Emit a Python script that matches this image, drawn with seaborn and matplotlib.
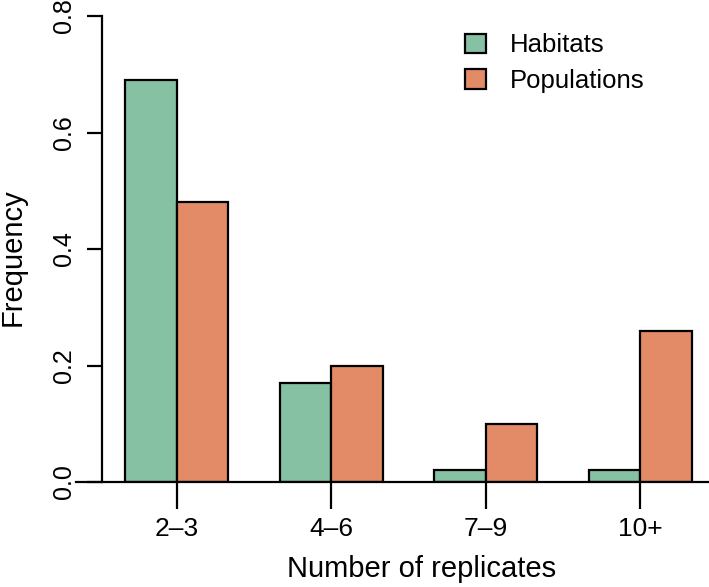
import matplotlib
matplotlib.use("Agg")
import matplotlib.pyplot as plt
import seaborn as sns
import pandas as pd
from matplotlib.patches import Patch

categories = ["2\u20133", "4\u20136", "7\u20139", "10+"]
habitats = [0.69, 0.17, 0.02, 0.02]
populations = [0.48, 0.20, 0.10, 0.26]
series_names = ["Habitats", "Populations"]
yticks = [0.0, 0.2, 0.4, 0.6, 0.8]

green = "#86C1A4"
orange = "#E38B66"

df = pd.DataFrame({
    "cat": categories * 2,
    "group": [series_names[0]] * 4 + [series_names[1]] * 4,
    "value": habitats + populations,
})

sns.set_theme(style="white")
plt.rcParams["font.family"] = ["Liberation Sans", "DejaVu Sans"]
plt.rcParams["text.color"] = "black"
plt.rcParams["axes.labelcolor"] = "black"
plt.rcParams["xtick.color"] = "black"
plt.rcParams["ytick.color"] = "black"

W, H = 709, 587
fig = plt.figure(figsize=(W / 100, H / 100), dpi=100)
ax = fig.add_axes([76 / W, (H - 482) / H, (708 - 76) / W, (482 - 16) / H])

sns.barplot(data=df, x="cat", y="value", hue="group", order=categories,
            hue_order=series_names, palette=[green, orange], width=2 / 3,
            saturation=1, edgecolor="black", linewidth=1.6, ax=ax, legend=False)

ax.set_xlim(-0.652, 3.439)
ax.set_ylim(0, 0.8)

for s in ["top", "right"]:
    ax.spines[s].set_visible(False)
ax.spines["bottom"].set_linewidth(1.6)
ax.spines["bottom"].set_color("black")
ax.spines["left"].set_linewidth(1.6)
ax.spines["left"].set_color("black")
ax.spines["left"].set_position(("data", -0.484))
ax.spines["left"].set_bounds(0, 0.8)

ax.set_yticks(yticks)
ax.set_yticklabels([f"{v:.1f}" for v in yticks], rotation=90, va="center")
ax.tick_params(axis="y", direction="out", length=10.8, width=1.6, color="black",
               labelcolor="black", labelsize=18, pad=8, left=True)
ax.tick_params(axis="x", direction="out", length=19.4, width=1.6, color="black",
               labelcolor="black", labelsize=19, pad=6, bottom=True)

ax.set_xlabel("Number of replicates", fontsize=21, color="black")
ax.set_ylabel("Frequency", fontsize=21, color="black")
ax.xaxis.set_label_coords(0.546, -0.157)
ax.yaxis.set_label_coords(-0.0775, 0.482)

handles = [Patch(facecolor=green, edgecolor="black", linewidth=1.6),
           Patch(facecolor=orange, edgecolor="black", linewidth=1.6)]
leg = ax.legend(handles, series_names, loc="upper left", bbox_to_anchor=(0.6, 0.985),
                frameon=False, fontsize=18.5, handlelength=0.78, handleheight=0.78,
                handletextpad=0.95, labelspacing=0.45, borderaxespad=0)
for t in leg.get_texts():
    t.set_color("black")

fig.savefig("out.png", dpi=100)
